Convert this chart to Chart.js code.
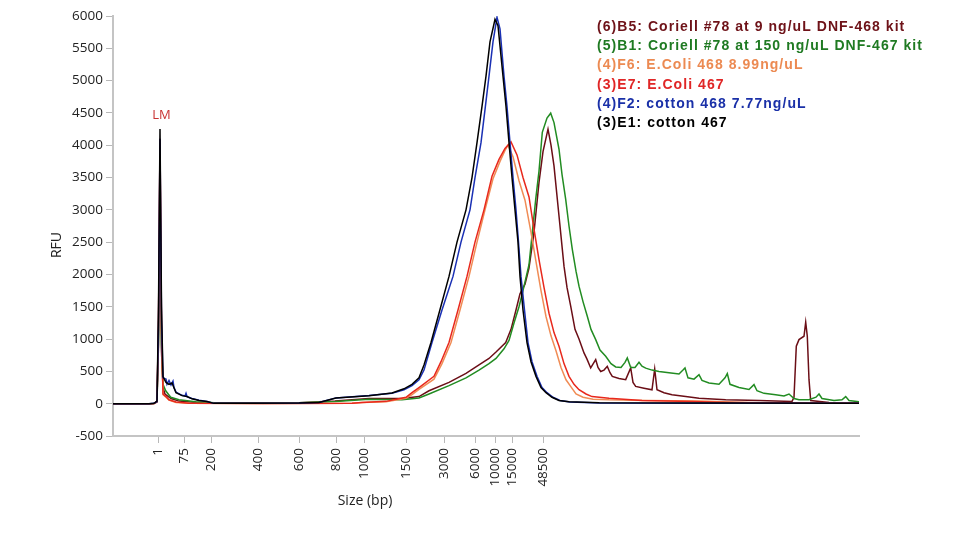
<!DOCTYPE html>
<html>
<head>
<meta charset="utf-8">
<script src="https://cdn.jsdelivr.net/npm/chart.js@4.4.1/dist/chart.umd.min.js"></script>
<style>
  html, body { margin: 0; padding: 0; background: #fff; }
  #c { display: block; }
</style>
</head>
<body>
<canvas id="c" width="960" height="540"></canvas>
<script>
// migration position (arbitrary units) where the ladder sizes fall
const ladderPos = [45, 71, 98, 145, 186, 223, 251, 293, 331, 362, 382, 399, 430];
const ladderLabels = ['1', '75', '200', '400', '600', '800', '1000', '1500', '3000', '6000', '10000', '15000', '48500'];

const yTicks = { min: -500, max: 6000, step: 500 };

// (3)E1: cotton 467
const cotton467X = [0,36,41,44,45.5,47,48.5,50,53,56,59,63,69,74,79,86,94,101,136,186,206,223,256,279,291,299,306,311,318,326,336,344,353,359,364,369,373,377,382,385,390,393,396,399,402,405,407,410,414,418,423,428,433,439,446,456,486,586,746];
const cotton467Y = [0,0,5,40,1500,4250,1500,420,330,300,320,170,125,110,75,50,35,5,5,10,20,88,124,165,230,300,400,600,946,1400,1970,2500,3000,3500,4040,4600,5070,5600,5950,5850,5070,4600,4040,3500,3000,2500,1970,1450,946,650,423,250,170,100,50,30,15,10,5];

// (4)F2: cotton 468 7.77ng/uL
const cotton468X = [0,36,41,44,45.5,47,48.5,50,53,54,56,58,60,61,63,69,72,73,74,79,86,94,101,136,186,206,223,256,279,291,299,306,311,319,329,340,348,357,362,368,372,376,380,384,387,391,394,397,400,403,405.5,408,411.5,415,419,424,429,434,440,447,457,487,587,746];
const cotton468Y = [0,0,5,30,1200,4100,1300,400,380,300,360,290,350,250,180,130,120,160,110,80,55,35,5,5,10,20,90,125,160,215,280,370,520,946,1450,1970,2500,3000,3500,4040,4550,5070,5600,5980,5800,5070,4600,4040,3500,3000,2500,1970,1450,946,650,423,250,170,100,50,25,12,8,5];

// (3)E7: E.Coli 467
const ecoli467X = [0,36,41,44,45.5,47,48.5,50,53,56,63,76,150,239,249,273,293,299,306,321,328,336,345,354,362,371,379,386,392,398,404,410,416,421,426,431,436,441,446,451,456,461,466,473,479,496,529,579,613,686,746];
const ecoli467Y = [0,0,3,30,1300,4100,1200,150,110,60,25,5,3,5,20,36,98,170,250,423,650,946,1450,1970,2500,3000,3520,3780,3950,4051,3850,3500,3200,2700,2230,1800,1400,1100,890,620,423,300,217,150,110,85,50,35,20,10,8];

// (4)F6: E.Coli 468 8.99ng/uL
const ecoli468X = [0,36,41,44,45.5,47,48.5,50,53,56,63,76,150,239,249,273,293,299,306,321,329,338,347,356,364,372,380,387,392,395,400,406,412,418,423,428,433,438,443,448,453,458,463,470,480,496,520,535,560,586,610,640,746];
const ecoli468Y = [0,0,3,25,1200,3900,1100,140,100,55,20,5,3,5,18,30,85,140,220,380,620,946,1450,1970,2500,3000,3480,3750,3920,4000,3820,3450,3150,2650,2200,1750,1350,1050,820,560,370,260,150,100,70,60,55,50,45,40,30,15,10];

// (5)B1: Coriell #78 at 150 ng/uL DNF-467 kit
const coriell150X = [0,36,41,44,45.5,47,48.5,50,52.7,57.7,66,82.7,106,186,222.7,256,289,306,316,336,353,366,376,383,391,396,401,406,410,413,416,419.3,422.7,426,429.3,434,437.7,441,446,449,452.7,456,459.3,463,466,470,474.3,478,482.7,487,492.7,498,502.7,508,512,514.3,517.7,522,526,529,532.7,539,546,556,566,570,572,575,581,586,589,596,606,612,614.3,617,626,636,641,644,651,662.7,671,676,681,686,696,703,706,709,721,729,732.7,736,746];
const coriell150Y = [0,0,4,30,1000,3100,900,300,200,100,60,30,10,15,35,70,60,88,150,280,400,520,620,700,850,980,1250,1500,1750,1950,2150,2650,3163,3600,4200,4420,4496,4350,3938,3550,3163,2750,2388,2050,1819,1580,1354,1150,992,830,733,620,569,560,640,708,560,560,640,580,550,520,500,480,460,520,553,400,380,450,360,320,300,400,465,300,250,220,295,200,160,140,120,150,80,62,60,100,150,80,50,60,110,50,30];

// (6)B5: Coriell #78 at 9 ng/uL DNF-468 kit
const coriell9X = [0,36,41,44,45.5,47,48.5,50,52,58,66,86,186,222,256,289,306,316,336,353,366,376,383,392.7,398,403,407,412,416,421,426,430,435,438,441,446,451,454,457.7,462,466,471,474,477.7,482.7,485,487.7,491,494.3,497,499.3,506,512.7,517.7,520,522.7,531,539,541.7,544,551,559,572.7,586,612.7,646,679,681,683.3,686,691,692.7,694.3,696,697.7,716,746];
const coriell9Y = [0,0,4,30,900,2800,800,250,150,80,40,15,15,40,80,80,110,200,330,470,600,700,800,946,1150,1450,1700,1850,2100,2650,3426,3900,4248,4000,3680,2904,2129,1800,1509,1150,1000,786,690,553,682,560,498,520,578,480,423,390,372,553,330,268,240,215,537,215,170,140,110,85,60,50,35,100,889,992,1044,1261,1044,372,50,20,15];

const legendRows = [
  { text: '(6)B5: Coriell #78 at 9 ng/uL DNF-468 kit', color: '#6e1218' },
  { text: '(5)B1: Coriell #78 at 150 ng/uL DNF-467 kit', color: '#1f7a22' },
  { text: '(4)F6: E.Coli 468 8.99ng/uL', color: '#ec8a52' },
  { text: '(3)E7: E.Coli 467', color: '#e02626' },
  { text: '(4)F2: cotton 468 7.77ng/uL', color: '#1a30a8' },
  { text: '(3)E1: cotton 467', color: '#000000' }
];

function pts(xs, ys) {
  return xs.map((x, i) => ({ x: x, y: ys[i] }));
}

function ds(label, xs, ys, color) {
  return {
    label: label,
    data: pts(xs, ys),
    borderColor: color,
    borderWidth: 1.5,
    pointRadius: 0,
    tension: 0,
    fill: false
  };
}

const overlay = {
  id: 'overlay',
  afterDraw(chart) {
    const ctx = chart.ctx;
    const x = chart.scales.x, y = chart.scales.y;
    ctx.save();
    // LM marker label
    ctx.fillStyle = '#c83232';
    ctx.font = '13px "Open Sans"';
    ctx.textAlign = 'center';
    ctx.textBaseline = 'middle';
    ctx.fillText('LM', x.getPixelForValue(48.5), y.getPixelForValue(4470));

    // axis titles
    ctx.fillStyle = '#222';
    ctx.font = '14px "Open Sans"';
    ctx.fillText('Size (bp)', 365, 501);
    ctx.translate(57, 245);
    ctx.rotate(-Math.PI / 2);
    ctx.fillText('RFU', 0, 0);
    ctx.restore();

    // legend
    ctx.save();
    ctx.font = 'bold 14px "Liberation Sans"';
    ctx.letterSpacing = '1.05px';
    ctx.textAlign = 'left';
    ctx.textBaseline = 'middle';
    legendRows.forEach((r, i) => {
      ctx.fillStyle = r.color;
      ctx.fillText(r.text, 597, 27 + i * 19.3);
    });
    ctx.restore();
  }
};

new Chart(document.getElementById('c'), {
  type: 'line',
  data: {
    datasets: [
      ds('(3)E1: cotton 467', cotton467X, cotton467Y, '#000000'),
      ds('(4)F2: cotton 468 7.77ng/uL', cotton468X, cotton468Y, '#1a30b4'),
      ds('(3)E7: E.Coli 467', ecoli467X, ecoli467Y, '#e8281c'),
      ds('(4)F6: E.Coli 468 8.99ng/uL', ecoli468X, ecoli468Y, '#f08c55'),
      ds('(5)B1: Coriell #78 at 150 ng/uL DNF-467 kit', coriell150X, coriell150Y, '#228c22'),
      ds('(6)B5: Coriell #78 at 9 ng/uL DNF-468 kit', coriell9X, coriell9Y, '#6b0e16')
    ]
  },
  options: {
    responsive: false,
    animation: false,
    devicePixelRatio: 1,
    layout: { padding: { top: 16, right: 101, bottom: 0, left: 0 } },
    plugins: {
      legend: { display: false },
      tooltip: { enabled: false }
    },
    scales: {
      x: {
        type: 'linear',
        min: 0,
        max: 746,
        afterFit: (s) => { s.height = 104; },
        afterBuildTicks: (s) => { s.ticks = ladderPos.map(v => ({ value: v })); },
        border: { color: '#c4c4c4', width: 2 },
        grid: { drawOnChartArea: false, drawTicks: true, tickLength: 7, color: '#b8b8b8' },
        ticks: {
          autoSkip: false,
          minRotation: 90,
          maxRotation: 90,
          padding: 5,
          color: '#222',
          font: { family: 'Open Sans', size: 13.5 },
          callback: (v) => {
            const i = ladderPos.indexOf(v);
            return i >= 0 ? ladderLabels[i] : '';
          }
        }
      },
      y: {
        min: yTicks.min,
        max: yTicks.max,
        afterFit: (s) => { s.width = 113; },
        border: { color: '#c4c4c4', width: 2 },
        grid: { drawOnChartArea: false, drawTicks: true, tickLength: 7, color: '#b8b8b8' },
        ticks: {
          stepSize: yTicks.step,
          padding: 3,
          color: '#222',
          font: { family: 'Open Sans', size: 13.5 },
          callback: (v) => String(v)
        }
      }
    }
  },
  plugins: [overlay]
});
</script>
</body>
</html>
